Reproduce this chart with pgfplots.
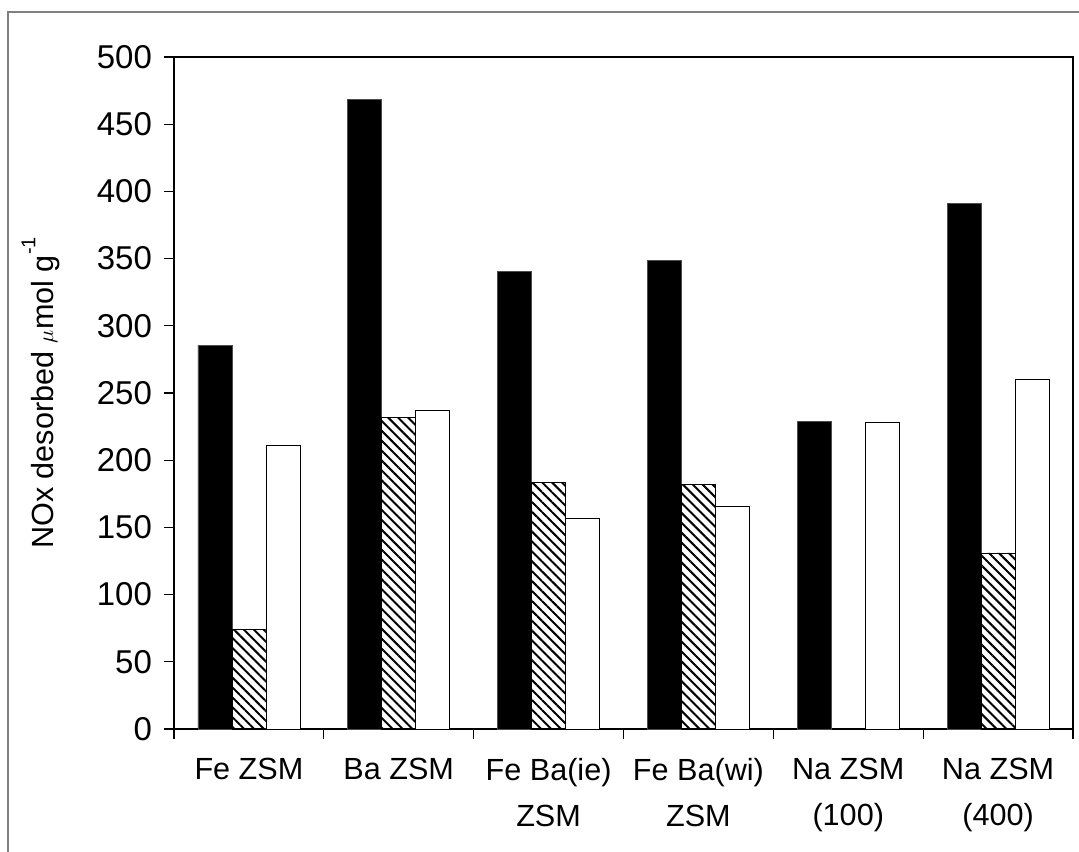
\documentclass[border=0pt]{standalone}
\usepackage{pgfplots}
\pgfplotsset{compat=1.18}
\usepackage{fontspec}
\setmainfont{Liberation Sans}
\usetikzlibrary{patterns.meta}

\begin{document}
\begin{tikzpicture}[x=1pt,y=1pt]
\useasboundingbox (-87,-61) rectangle (452.5,364.5);
% outer chart frame
\draw[color=black!50, line width=1pt] (-83,-70) -- (-83,358.5) -- (460,358.5);
\begin{axis}[
  at={(0,0)}, anchor=south west,
  scale only axis, width=449.5pt, height=336pt,
  xmin=-0.5, xmax=5.5, ymin=0, ymax=500,
  ybar=0pt, bar width=17pt,
  axis line style={black, line width=0.6pt},
  ytick={0,50,...,500},
  ytick pos=left, xtick pos=bottom,
  tick align=outside,
  major tick length=5pt, minor tick length=5pt,
  tick style={black, line width=0.6pt},
  xtick={0,1,2,3,4,5},
  major x tick style={draw=none},
  minor xtick={-0.5,0.5,1.5,2.5,3.5,4.5,5.5},
  xticklabels={{Fe ZSM},{Ba ZSM},{Fe Ba(ie)\\ZSM},{Fe Ba(wi)\\ZSM},{Na ZSM\\(100)},{Na ZSM\\(400)}},
  xticklabel style={align=center, font=\fontsize{15.3}{23}\selectfont, yshift=-6pt},
  yticklabel style={font=\fontsize{16.5}{19}\selectfont, xshift=-2.5pt},
  /pgf/number format/assume math mode=true,
  ylabel={NOx desorbed {\fontsize{11}{11}\selectfont$\mu$}mol g\raisebox{1.1ex}{\fontsize{10}{10}\selectfont -1}},
  ylabel style={font=\fontsize{15.3}{18}\selectfont, at={(axis description cs:-0.1485,0.5)}, anchor=center},
]
\addplot[fill=black, draw=black!70] coordinates {
  (0,285.5) (1,468.5) (2,340.5) (3,348.4) (4,229) (5,391)};
\addplot[pattern={Lines[angle=-45, distance=3.5pt, line width=1pt]}, draw=black] coordinates {
  (0,74) (1,231.9) (2,183.5) (3,182) (5,131)};
\addplot[fill=white, draw=black] coordinates {
  (0,210.8) (1,237.1) (2,157) (3,165.7) (4,228) (5,260)};
\end{axis}
\end{tikzpicture}
\end{document}
